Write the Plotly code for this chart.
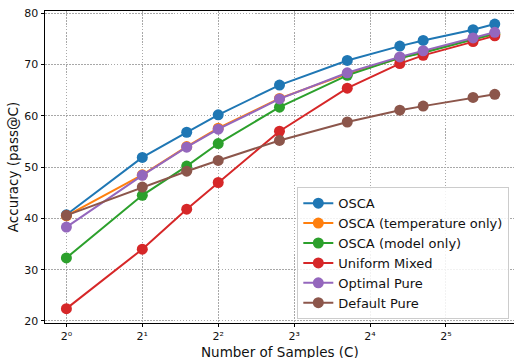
import plotly.graph_objects as go

samples = [1, 2, 3, 4, 7, 13, 21, 26, 41, 50]

osca = [40.7, 51.9, 56.8, 60.2, 66.0, 70.8, 73.6, 74.7, 76.8, 77.9]
osca_temp = [40.5, 48.5, 54.0, 57.6, 63.4, 68.2, 71.3, 72.4, 75.0, 75.9]
osca_model = [32.3, 44.5, 50.2, 54.6, 61.7, 67.9, 71.3, 72.3, 74.9, 76.0]
uniform = [22.4, 34.0, 41.8, 47.0, 57.0, 65.4, 70.2, 71.8, 74.5, 75.6]
optimal = [38.3, 48.4, 53.9, 57.4, 63.3, 68.4, 71.5, 72.7, 75.2, 76.3]
default = [40.6, 46.1, 49.2, 51.3, 55.2, 58.8, 61.1, 61.9, 63.6, 64.2]

names = ["OSCA", "OSCA (temperature only)", "OSCA (model only)",
         "Uniform Mixed", "Optimal Pure", "Default Pure"]
series = [osca, osca_temp, osca_model, uniform, optimal, default]
colors = ["#1f77b4", "#ff7f0e", "#2ca02c", "#d62728", "#9467bd", "#8c564b"]

tick_vals = [1, 2, 4, 8, 16, 32]
tick_text = ["2\u2070", "2\u00b9", "2\u00b2", "2\u00b3", "2\u2074", "2\u2075"]

fig = go.Figure()
for n, s, c in zip(names, series, colors):
    fig.add_trace(go.Scatter(
        x=samples, y=s, name=n, mode="lines+markers",
        line=dict(color=c, width=2),
        marker=dict(color=c, size=11),
    ))

font = "DejaVu Sans, Arial, sans-serif"
fig.update_layout(
    width=514, height=358,
    margin=dict(l=45, r=0, t=11, b=35),
    paper_bgcolor="white", plot_bgcolor="white",
    font=dict(family=font, size=11, color="#111"),
    showlegend=True,
    legend=dict(
        x=0.99, y=0.012, xanchor="right", yanchor="bottom",
        bgcolor="rgba(255,255,255,0.85)", bordercolor="#cccccc", borderwidth=1,
        font=dict(family=font, size=13, color="#111"),
        itemwidth=30,
    ),
)
fig.add_annotation(
    text="Number of Samples (C)", xref="paper", yref="paper",
    x=0.5, y=-0.094, xanchor="center", yanchor="middle",
    showarrow=False, font=dict(family=font, size=13.5, color="#111"),
)
grid_dash = "1.5px,1.5px"
fig.update_xaxes(
    type="log", range=[-0.0849, 1.7752],
    tickvals=tick_vals, ticktext=tick_text,
    showgrid=True, gridcolor="#a8a8a8", griddash=grid_dash, gridwidth=1,
    showline=True, linecolor="black", linewidth=1, mirror=True,
    ticks="outside", ticklen=3, tickcolor="black",
    zeroline=False,
    tickfont=dict(size=11, color="#111"),
)
fig.update_yaxes(
    range=[19.6, 80.45],
    tickvals=[20, 30, 40, 50, 60, 70, 80],
    showgrid=True, gridcolor="#a8a8a8", griddash=grid_dash, gridwidth=1,
    showline=True, linecolor="black", linewidth=1,
    ticks="outside", ticklen=3.5, tickcolor="black",
    zeroline=False,
    tickfont=dict(size=11, color="#111"),
    title=dict(text="Accuracy (pass@C)", font=dict(size=13.5, color="#111"), standoff=2),
)

fig.write_html("out.html")
